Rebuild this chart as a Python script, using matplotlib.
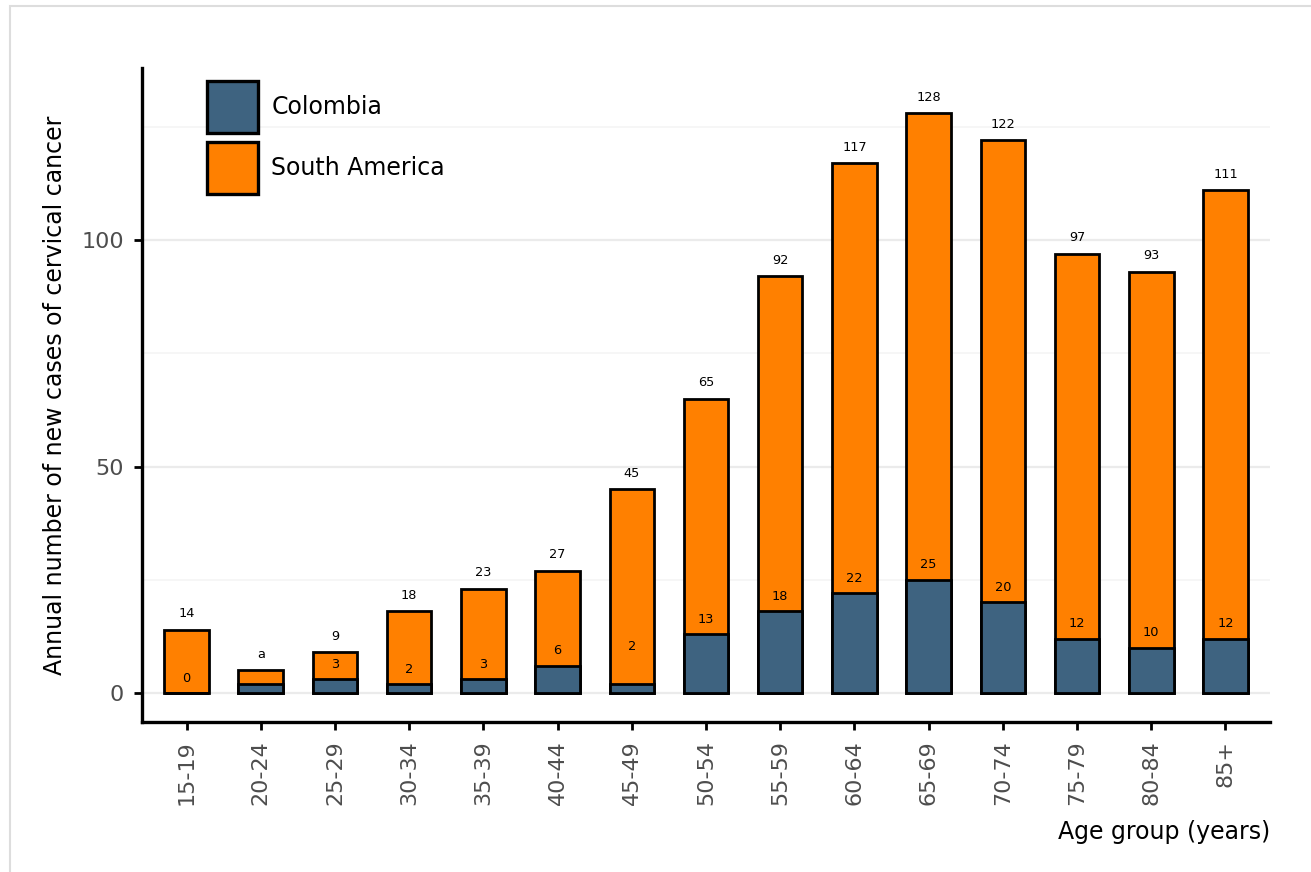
import numpy as np
import matplotlib
matplotlib.use("Agg")
import matplotlib.pyplot as plt
from matplotlib.patches import Rectangle, Patch

age_groups = ["15-19", "20-24", "25-29", "30-34", "35-39", "40-44", "45-49", "50-54",
              "55-59", "60-64", "65-69", "70-74", "75-79", "80-84", "85+"]
south_america = [14, 5, 9, 18, 23, 27, 45, 65, 92, 117, 128, 122, 97, 93, 111]
colombia = [0, 2, 3, 2, 3, 6, 2, 13, 18, 22, 25, 20, 12, 10, 12]
sa_labels = ["14", "a", "9", "18", "23", "27", "45", "65", "92", "117", "128", "122", "97", "93", "111"]
col_labels = ["0", "", "3", "2", "3", "6", "2", "13", "18", "22", "25", "20", "12", "10", "12"]

blue = "#3e6380"
orange = "#ff8000"

fig = plt.figure(figsize=(13.11, 8.72), dpi=100)
W, H = 1311, 872
ax = fig.add_axes([142 / W, (H - 722) / H, (1270 - 142) / W, (722 - 68) / H])

x = np.arange(len(age_groups))
ax.bar(x, south_america, width=0.6, color=orange, edgecolor="black", linewidth=2, zorder=2)
ax.bar(x, colombia, width=0.6, color=blue, edgecolor="black", linewidth=2, zorder=3)

for i, (v, t) in enumerate(zip(south_america, sa_labels)):
    ax.text(i, v + 3.5, t, ha="center", va="center", fontsize=9.3, color="black", zorder=4)

# label for 45-49 sits higher in the original
lift = {6: 8.2}
for i, (v, t) in enumerate(zip(colombia, col_labels)):
    if t:
        ax.text(i, v + lift.get(i, 3.3), t, ha="center", va="center", fontsize=9.3,
                color="black", zorder=4)

ax.set_xlim(-0.6, 14.6)
ax.set_ylim(-6.4, 138)
ax.set_xticks(x)
ax.set_xticklabels(age_groups, rotation=90, fontsize=16, color="#4d4d4d")
ax.set_yticks([0, 50, 100])
ax.set_yticklabels(["0", "50", "100"], fontsize=16, color="#4d4d4d")
ax.set_yticks([25, 75, 125], minor=True)
ax.tick_params(axis="y", which="minor", length=0)
ax.tick_params(axis="both", which="major", length=6, width=2, color="black", pad=7)

ax.grid(axis="y", which="major", color="#ebebeb", linewidth=1.6, zorder=0)
ax.grid(axis="y", which="minor", color="#f5f5f5", linewidth=1.2, zorder=0)
ax.set_axisbelow(True)

for s in ["top", "right"]:
    ax.spines[s].set_visible(False)
for s in ["left", "bottom"]:
    ax.spines[s].set_linewidth(2.4)
    ax.spines[s].set_color("black")

ax.set_ylabel("Annual number of new cases of cervical cancer", fontsize=17, color="black", labelpad=10)
ax.set_xlabel("Age group (years)", fontsize=17, color="black", loc="right", labelpad=11)

handles = [Patch(facecolor=blue, edgecolor="black", linewidth=2.4, label="Colombia"),
           Patch(facecolor=orange, edgecolor="black", linewidth=2.4, label="South America")]
ax.legend(handles=handles, loc="upper left", bbox_to_anchor=(0.039, 1.012), frameon=False,
          fontsize=17, handlelength=2.16, handleheight=3.01, handletextpad=0.55, labelspacing=0.38)

fig.patches.append(Rectangle((10 / W, -0.1), 1.2, 1.1 - 6 / H, transform=fig.transFigure,
                             fill=False, edgecolor="#dddddd", linewidth=1.5))

fig.savefig("out.png", dpi=100)
